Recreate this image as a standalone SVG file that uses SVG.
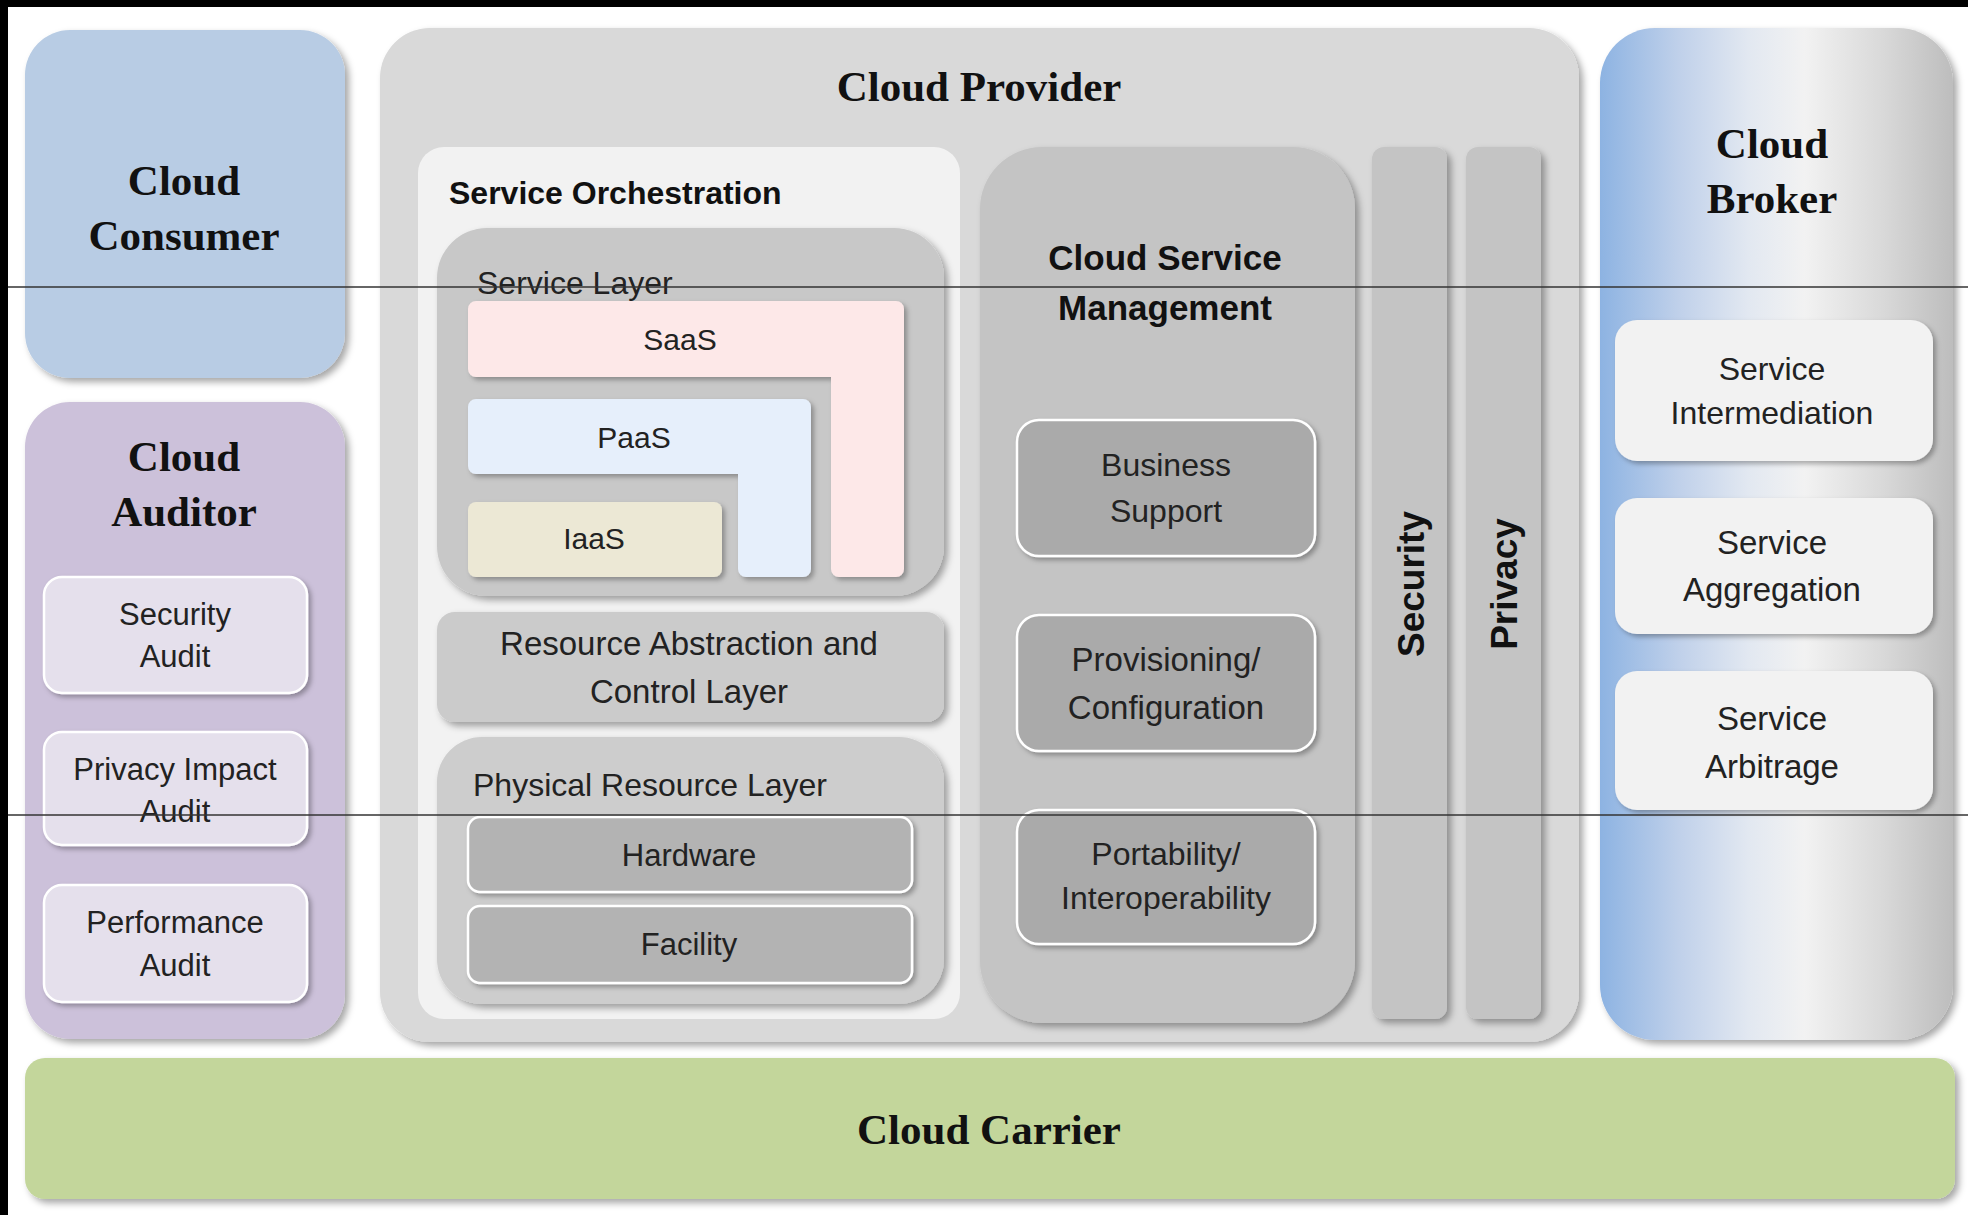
<svg xmlns="http://www.w3.org/2000/svg" width="1968" height="1215" viewBox="0 0 1968 1215">
<defs>
<filter id="sh" x="-10%" y="-10%" width="125%" height="125%">
<feDropShadow dx="4" dy="4" stdDeviation="3.5" flood-color="#000" flood-opacity="0.35"/>
</filter>
<filter id="shs" x="-10%" y="-10%" width="125%" height="130%">
<feDropShadow dx="3" dy="3" stdDeviation="2.5" flood-color="#000" flood-opacity="0.3"/>
</filter>
<linearGradient id="brokerGrad" x1="0" y1="0" x2="1" y2="0">
<stop offset="0" stop-color="#8db3e2"/>
<stop offset="0.22" stop-color="#bfd0ea"/>
<stop offset="0.42" stop-color="#e2e8f1"/>
<stop offset="0.58" stop-color="#f2f2f2"/>
<stop offset="0.8" stop-color="#d9d9d9"/>
<stop offset="1" stop-color="#bdbdbd"/>
</linearGradient>
</defs>
<style>
.serif{font-family:"Liberation Serif","Times New Roman",serif;font-weight:bold;font-size:43px;fill:#111;text-anchor:middle}
.lbl{font-family:"Liberation Sans",Arial,sans-serif;font-size:31px;fill:#222;text-anchor:middle}
.lblb{font-family:"Liberation Sans",Arial,sans-serif;font-size:32px;font-weight:bold;fill:#111}
.sub{stroke:#ffffff;stroke-width:2.5}
</style>
<rect x="0" y="0" width="1968" height="1215" fill="#ffffff"/>
<rect x="0" y="0" width="1968" height="7" fill="#000"/>
<rect x="0" y="0" width="8" height="1215" fill="#000"/>

<g id="cloud-consumer">
<rect x="25" y="30" width="320" height="348" rx="45" fill="#b8cce4" filter="url(#sh)"/>
<text class="serif" x="184" y="195">Cloud</text>
<text class="serif" x="184" y="250">Consumer</text>
</g>

<g id="cloud-auditor">
<rect x="25" y="402" width="320" height="637" rx="45" fill="#ccc1da" filter="url(#sh)"/>
<text class="serif" x="184" y="471">Cloud</text>
<text class="serif" x="184" y="526">Auditor</text>
<g id="security-audit">
<rect class="sub" x="44" y="577" width="263" height="116" rx="18" fill="#e5e0ec" filter="url(#shs)"/>
<text class="lbl" x="175" y="625">Security</text>
<text class="lbl" x="175" y="667">Audit</text>
</g>
<g id="privacy-impact-audit">
<rect class="sub" x="44" y="732" width="263" height="113" rx="18" fill="#e5e0ec" filter="url(#shs)"/>
<text class="lbl" x="175" y="780">Privacy Impact</text>
<text class="lbl" x="175" y="822">Audit</text>
</g>
<g id="performance-audit">
<rect class="sub" x="44" y="885" width="263" height="117" rx="18" fill="#e5e0ec" filter="url(#shs)"/>
<text class="lbl" x="175" y="933">Performance</text>
<text class="lbl" x="175" y="976">Audit</text>
</g>
</g>

<g id="cloud-provider">
<rect x="380" y="28" width="1199" height="1014" rx="50" fill="#d9d9d9" filter="url(#sh)"/>
<text class="serif" x="979" y="101">Cloud Provider</text>

<g id="service-orchestration">
<rect x="418" y="147" width="542" height="872" rx="26" fill="#f2f2f2"/>
<text class="lblb" x="449" y="204">Service Orchestration</text>

<g id="service-layer">
<rect x="437" y="228" width="507" height="368" rx="50" fill="#c8c8c8" filter="url(#sh)"/>
<text class="lbl" x="477" y="294" style="text-anchor:start;font-size:32px">Service Layer</text>
<g id="saas">
<path d="M476,301 H896 A8,8 0 0 1 904,309 V569 A8,8 0 0 1 896,577 H839 A8,8 0 0 1 831,569 V377 H476 A8,8 0 0 1 468,369 V309 A8,8 0 0 1 476,301 Z" fill="#fde8e8" filter="url(#shs)"/>
<text class="lbl" x="680" y="350" style="font-size:30px">SaaS</text>
</g>
<g id="paas">
<path d="M476,399 H803 A8,8 0 0 1 811,407 V569 A8,8 0 0 1 803,577 H746 A8,8 0 0 1 738,569 V474 H476 A8,8 0 0 1 468,466 V407 A8,8 0 0 1 476,399 Z" fill="#e6effb" filter="url(#shs)"/>
<text class="lbl" x="634" y="448" style="font-size:30px">PaaS</text>
</g>
<g id="iaas">
<rect x="468" y="502" width="254" height="75" rx="8" fill="#ece8d5" filter="url(#shs)"/>
<text class="lbl" x="594" y="549" style="font-size:30px">IaaS</text>
</g>
</g>

<g id="resource-abstraction">
<rect x="437" y="612" width="507" height="110" rx="18" fill="#cbcbcb" filter="url(#sh)"/>
<text class="lbl" x="689" y="655" style="font-size:33px">Resource Abstraction and</text>
<text class="lbl" x="689" y="703" style="font-size:33px">Control Layer</text>
</g>

<g id="physical-resource-layer">
<rect x="437" y="737" width="507" height="267" rx="45" fill="#cdcdcd" filter="url(#sh)"/>
<text class="lbl" x="473" y="796" style="text-anchor:start;font-size:32px">Physical Resource Layer</text>
<g id="hardware">
<rect class="sub" x="468" y="817" width="444" height="75" rx="12" fill="#b3b3b3" filter="url(#shs)"/>
<text class="lbl" x="689" y="866">Hardware</text>
</g>
<g id="facility">
<rect class="sub" x="468" y="906" width="444" height="77" rx="12" fill="#b3b3b3" filter="url(#shs)"/>
<text class="lbl" x="689" y="955">Facility</text>
</g>
</g>
</g>

<g id="cloud-service-management">
<rect x="980" y="147" width="375" height="876" rx="62" fill="#c4c4c4" filter="url(#sh)"/>
<text class="lblb" x="1165" y="270" style="text-anchor:middle;font-size:35px">Cloud Service</text>
<text class="lblb" x="1165" y="320" style="text-anchor:middle;font-size:35px">Management</text>
<g id="business-support">
<rect class="sub" x="1017" y="420" width="298" height="136" rx="22" fill="#aaaaaa" filter="url(#shs)"/>
<text class="lbl" x="1166" y="476" style="font-size:32px">Business</text>
<text class="lbl" x="1166" y="522" style="font-size:32px">Support</text>
</g>
<g id="provisioning-configuration">
<rect class="sub" x="1017" y="615" width="298" height="136" rx="22" fill="#aaaaaa" filter="url(#shs)"/>
<text class="lbl" x="1166" y="671" style="font-size:33px">Provisioning/</text>
<text class="lbl" x="1166" y="719" style="font-size:33px">Configuration</text>
</g>
<g id="portability-interoperability">
<rect class="sub" x="1017" y="810" width="298" height="134" rx="22" fill="#aaaaaa" filter="url(#shs)"/>
<text class="lbl" x="1166" y="865" style="font-size:32px">Portability/</text>
<text class="lbl" x="1166" y="909" style="font-size:32px">Interoperability</text>
</g>
</g>

<g id="security">
<rect x="1372" y="147" width="75" height="872" rx="12" fill="#c4c4c4" filter="url(#sh)"/>
<text class="lblb" transform="translate(1411,584) rotate(-90)" x="0" y="13" style="text-anchor:middle;font-size:37px">Security</text>
</g>
<g id="privacy">
<rect x="1466" y="147" width="75" height="872" rx="12" fill="#c4c4c4" filter="url(#sh)"/>
<text class="lblb" transform="translate(1504,584) rotate(-90)" x="0" y="13" style="text-anchor:middle;font-size:37px">Privacy</text>
</g>
</g>

<g id="cloud-broker">
<rect x="1600" y="28" width="353" height="1012" rx="55" fill="url(#brokerGrad)" filter="url(#sh)"/>
<text class="serif" x="1772" y="158">Cloud</text>
<text class="serif" x="1772" y="213">Broker</text>
<g id="service-intermediation">
<rect x="1615" y="320" width="318" height="141" rx="22" fill="#f2f2f2" filter="url(#shs)"/>
<text class="lbl" x="1772" y="380" style="font-size:32px">Service</text>
<text class="lbl" x="1772" y="424" style="font-size:32px">Intermediation</text>
</g>
<g id="service-aggregation">
<rect x="1615" y="498" width="318" height="136" rx="22" fill="#f2f2f2" filter="url(#shs)"/>
<text class="lbl" x="1772" y="554" style="font-size:33px">Service</text>
<text class="lbl" x="1772" y="601" style="font-size:33px">Aggregation</text>
</g>
<g id="service-arbitrage">
<rect x="1615" y="671" width="318" height="139" rx="22" fill="#f2f2f2" filter="url(#shs)"/>
<text class="lbl" x="1772" y="730" style="font-size:33px">Service</text>
<text class="lbl" x="1772" y="778" style="font-size:33px">Arbitrage</text>
</g>
</g>

<g id="cloud-carrier">
<rect x="25" y="1058" width="1930" height="141" rx="20" fill="#c3d69b" filter="url(#sh)"/>
<text class="serif" x="989" y="1144">Cloud Carrier</text>
</g>

<g id="connectors"></g>

<g id="scan-lines" stroke="#333" stroke-width="1.5">
<line x1="8" y1="287" x2="1968" y2="287"/>
<line x1="8" y1="815" x2="1968" y2="815"/>
</g>
</svg>
